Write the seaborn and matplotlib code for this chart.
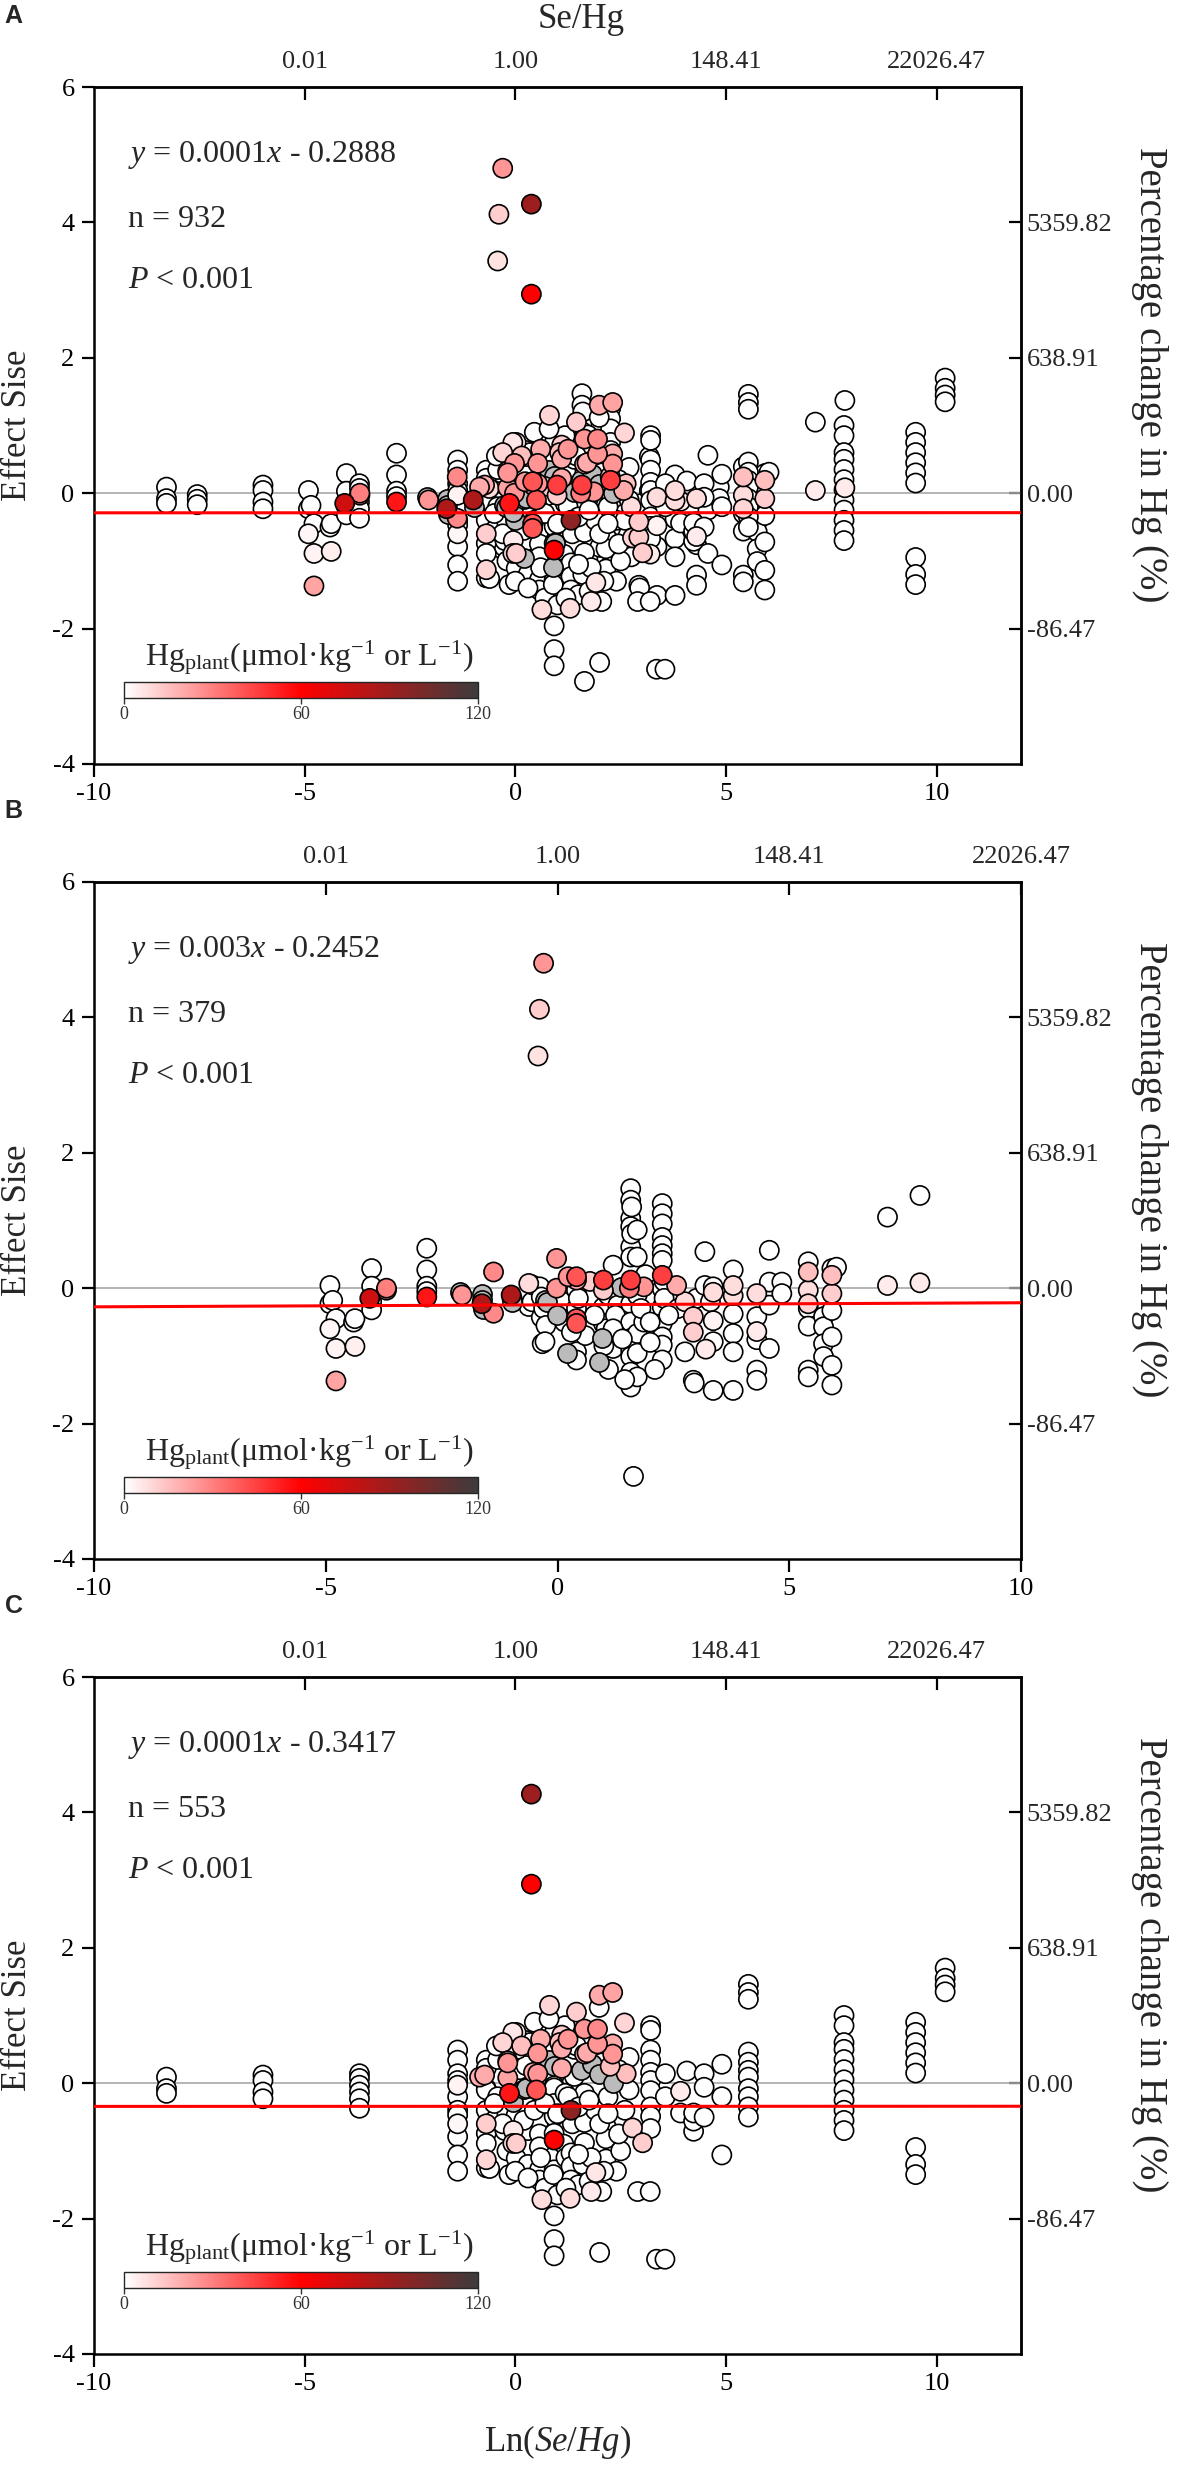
import numpy as np
import pandas as pd
import matplotlib
matplotlib.use("Agg")
import matplotlib.pyplot as plt
import seaborn as sns
from matplotlib.colors import LinearSegmentedColormap, Normalize
from matplotlib.cm import ScalarMappable

nan = np.nan

# ---- panel B data: ln(Se/Hg), effect size, Hg in plant (nan = no Hg value, grey)
b_x = [-4.91, -4.91, -4.85, -4.91, -4.78, -4.78, -4.78,
       -4.40, -4.37, -4.37, -4.01, -4.01, -4.05, -4.01, -4.01, -3.69, -3.69,
       -2.82, -2.82, -2.82, -2.82, -2.82, -2.10, -2.06, -1.63, -1.63, -1.60, -1.63,
       -1.38, -1.38, -1.00, -0.98, -0.98, -0.62, -0.62, -0.55, -0.55,
       -0.38, -0.35, -0.35, -0.33, -0.27, -0.30, -0.25, -0.23, -0.27,
       -0.30, -0.39, -0.42,
       -0.02, -0.02, -0.02, 0.20, 0.23, 0.10, 0.15, 0.41, 0.41, 0.41, 0.41, 0.41,
       0.41, 0.41, 0.41, 0.45, 0.99, 0.99, 0.99, 0.99, 0.95, 0.90, 1.09, 1.05,
       1.20, 1.20, 1.38, 1.30, 1.25,
       1.58, 1.58, 1.58, 1.58, 1.58, 1.58, 1.58, 1.58, 1.58, 1.58,
       1.58, 1.58, 1.58, 1.58, 1.58, 1.60, 1.60, 1.55, 1.64,
       1.72, 1.72, 1.72, 1.72, 1.72, 1.72, 1.86, 1.86,
       2.26, 2.26, 2.26, 2.26, 2.26, 2.26, 2.26, 2.26, 2.26, 2.26,
       2.26, 2.26, 2.26, 2.26, 2.30, 2.30,
       2.57, 2.75, 2.75, 2.60, 2.93, 2.93, 2.93, 2.95, 3.00,
       3.18, 3.18, 3.20, 3.36, 3.36, 3.36, 3.36, 3.36, 3.30,
       3.79, 3.79, 3.79, 3.79, 3.79, 3.79, 3.79,
       4.30, 4.30, 4.30, 4.30, 4.30, 4.30,
       4.57, 4.57, 4.57, 4.57, 4.84, 4.84,
       5.41, 5.41, 5.41, 5.41, 5.41, 5.41, 5.41, 5.41,
       5.74, 5.74, 5.74, 5.74, 5.92, 5.92, 5.92,
       5.92, 5.92, 5.92, 5.92, 6.02,
       7.12, 7.12, 7.82, 7.82,
       0.60, 0.80, 1.00, 1.20, 1.40, 1.80, 2.00, 2.10, 0.70, 1.10, 1.90, 2.40, 0.30, 1.45, 2.00]
b_y = [0.04, -0.23, -0.18, -0.60, -0.45, -0.89, -1.37,
       -0.50, -0.45, -0.86, 0.29, 0.03, -0.15, -0.20, -0.32, -0.03, 0.00,
       0.59, 0.27, 0.03, -0.05, -0.13, -0.05, -0.10, -0.08, -0.18, -0.30, -0.23,
       0.24, -0.37, -0.10, -0.20, -0.15, 0.07, -0.27, -0.20, 0.05,
       0.02, -0.13, -0.43, -0.82, -0.18, -0.30, -0.55, -0.20, -0.79,
       4.80, 4.12, 3.43,
       0.44, 0.00, -0.40, -0.96, 0.17, -0.20, -0.50, 0.17, 0.12, -0.03, -0.30, -0.45,
       -0.52, -0.94, -1.06, -0.15, 0.12, -0.03, -0.28, -0.52, -0.74, -1.09, -0.10, -0.60,
       0.34, -0.89, 0.02, -0.25, -0.40,
       1.47, 1.30, 1.03, 0.91, 0.61, 0.46, 0.12, 0.07, -0.23, -0.50,
       -0.74, -0.92, -1.01, -1.24, -1.46, 1.20, 0.80, 0.00, -2.78,
       0.86, 0.46, -0.10, -0.67, -0.96, -1.31, 0.02, -0.50,
       1.25, 1.10, 0.95, 0.75, 0.63, 0.51, 0.41, 0.19, -0.01, -0.28,
       -0.52, -0.72, -0.84, -1.06, 0.10, -0.15,
       0.04, -0.20, -0.94, -0.30, -0.42, -0.65, -1.36, -1.40, -0.15,
       0.54, 0.04, -0.90, 0.02, -0.06, -0.48, -0.79, -1.51, -0.20,
       0.27, 0.04, -0.11, -0.38, -0.67, -0.94, -1.51,
       -0.08, -0.42, -0.64, -0.76, -1.21, -1.36,
       0.56, 0.09, -0.25, -0.89, 0.09, -0.08,
       0.39, 0.24, -0.03, -0.23, -0.30, -0.56, -1.21, -1.31,
       -0.42, -0.57, -0.82, -1.01, 0.29, 0.19, -0.08,
       -0.33, -0.72, -1.14, -1.43, 0.31,
       1.05, 0.04, 1.37, 0.08,
       -0.70, -0.40, -0.85, -0.60, -0.75, -0.30, -0.80, -1.20, 0.10, -1.20, 0.20, -0.40, -0.65, -1.35, -0.50]
b_hg = [0, 0, 0, 2, 0, 3, 22,
        0, 0, 4, 0, 0, 75, 0, 0, 25, 30,
        0, 0, 0, 0, 55, nan, 25, nan, nan, nan, 85,
        28, 28, 85, nan, 0, 8, 0, 0, 0,
        0, 0, 0, 0, nan, 0, 0, nan, 0,
        25, 12, 7,
        25, 25, nan, nan, 25, 0, 0, 40, 20, 0, 0, 40,
        40, 0, 0, 0, 45, 12, 0, 0, nan, nan, 0, 0,
        0, 0, nan, 0, 0,
        0, 0, 0, 0, 0, 0, 45, 0, 0, 0,
        0, 0, 0, 0, 0, 0, 0, 30, 0,
        0, 0, 0, 0, 0, 0, 25, 0,
        0, 0, 0, 0, 0, 0, 0, 45, 0, 0,
        0, 0, 0, 0, 0, 0,
        20, 8, 0, 0, 12, 12, 0, 0, 0,
        0, 0, 5, 0, 8, 3, 0, 0, 0,
        0, 8, 8, 0, 0, 0, 0,
        8, 0, 5, 0, 0, 0,
        0, 0, 0, 0, 0, 0,
        0, 15, 8, 10, 0, 0, 0, 0,
        0, 0, 0, 0, 0, 15, 12,
        0, 0, 0, 0, 0,
        0, 5, 0, 5,
        0, 0, 0, 0, 0, 0, 0, 0, 12, 0, 0, 0, 0, 0, 0]

# ---- panel C data
c_x = [-8.28, -8.28, -8.28, -5.99, -5.99, -5.99, -5.99,
       -3.70, -3.70, -3.70, -3.70, -3.70, -3.70,
       -1.37, -1.37, -1.37, -1.37, -1.37, -1.37, -1.37, -1.37, -1.37, -1.37, -1.37, -1.37,
       -0.69, -0.69, -0.69, -0.69, -0.69, -0.69, -0.69, -0.69, -0.69, -0.69, -0.73, -0.85,
       -0.61, -0.42, -0.42, -0.50, -0.18, -0.18, -0.18, -0.14, -0.06, -0.06, -0.06,
       0.00, -0.20, -0.25, -0.20, -0.15, 0.02, 0.02, 0.02, 0.02, 0.10, 0.10,
       0.20, 0.25, 0.25, 0.25, 0.30, 0.30, 0.30, 0.43, 0.50, 0.53, 0.53,
       0.57, 0.57, 0.57, 0.57, 0.57, 0.63, 0.38, 0.38, 0.81, 0.79,
       0.92, 0.92, 0.92, 0.92, 0.92, 0.92, 0.92, 0.92,
       0.92, 0.92, 0.92, 0.92, 0.92, 0.92, 0.92, 0.92,
       1.10, 1.10, 1.10, 1.18, 1.18, 1.15, 1.20,
       1.32, 1.32, 1.32, 1.32, 1.35, 1.40, 1.40,
       1.56, 1.64, 1.64, 1.64, 1.64, 1.64, 1.60,
       1.83, 1.95, 1.95, 1.99, 1.99, 1.99, 1.91, 1.90, 2.00,
       2.31, 2.31, 2.31, 2.31, 2.15, 2.15, 2.15, 2.20,
       2.59, 2.63, 2.70, 2.70, 2.78, 3.02, 2.90, 2.60,
       3.21, 3.21, 3.21, 3.21, 3.21, 3.21, 3.21, 3.21, 3.21, 3.21,
       3.20, 3.35, 3.55, 3.56, 3.56, 3.92, 3.92, 4.07,
       4.23, 4.23, 4.23, 4.48, 4.48, 4.48, 4.90, 4.90, 4.90,
       5.53, 5.53, 5.53, 5.53, 5.53, 5.53, 5.53, 5.53, 5.53, 5.53, 5.53,
       7.80, 7.80, 7.80, 7.80, 7.80, 7.80, 7.80, 7.80, 7.80, 7.80, 7.80, 7.80,
       9.50, 9.50, 9.50, 9.50, 9.50, 9.50, 9.50, 9.50, 9.50, 10.20, 10.20, 10.20, 10.20,
       0.70, 1.00, 1.30, 1.50, 1.75, 2.05, 2.40, 0.45, 0.80, 1.45, 1.80, 2.50,
       -0.45, -0.30, -0.10, 0.05, 0.15, 0.35, 0.60, 0.75, 0.85, 1.05, 1.25, 1.45, 1.70, 1.85, 2.05, 2.25, 2.45,
       -0.50, -0.30, -0.05, 0.20, 0.45, 0.70, 1.00, 1.25, 1.50, 1.75, 2.00, 2.20, 2.45,
       0.00, 0.30, 0.60, 0.90, 1.20, 1.50, 1.80, 2.10]
c_y = [0.09, -0.08, -0.15, 0.12, 0.04, -0.13, -0.23,
       0.14, 0.07, -0.03, -0.13, -0.23, -0.37,
       0.49, 0.34, 0.14, 0.04, -0.03, -0.20, -0.40, -0.47, -0.60, -0.79, -1.06, -1.30,
       0.34, 0.22, -0.08, -0.10, -0.40, -0.60, -0.74, -0.89, -1.13, -1.25, 0.12, 0.09,
       -1.26, 0.35, -0.20, -0.55, 0.33, 0.08, 0.30, -0.15, -0.28, 0.75, -0.89,
       -0.50, -0.45, -0.70, -1.00, -1.35, 0.75, -0.47, -0.89, -1.11, 0.20, -0.20,
       -0.08, -0.07, 0.63, 0.26, -0.35, -0.70, -1.20, 0.16, -0.10, 0.44, 0.14,
       -0.55, -0.75, -0.94, -1.28, -1.43, -1.72, 4.27, 2.94, 1.15, 0.34,
       0.74, 0.40, 0.25, 0.10, -0.04, -0.07, -0.30, -0.49,
       -0.74, -0.84, -1.08, -1.28, -1.50, -1.96, -2.31, -2.55,
       0.71, 0.51, 0.22, 0.85, -0.15, -0.90, -1.10,
       -0.40, -1.03, -1.23, -1.43, -0.60, 0.50, 0.10,
       0.20, 0.80, 0.43, -0.15, -0.58, -0.88, -1.20,
       0.28, 0.80, 0.58, 0.14, 1.30, 1.12, -1.32, -0.40, -2.50,
       1.34, 0.00, 0.43, 0.58, -0.63, -0.82, -1.12, -0.20,
       0.89, 0.14, 0.38, -0.10, -0.66, -0.88, -1.60, -0.40,
       0.85, 0.78, 0.49, 0.34, 0.16, 0.04, -0.11, -0.35, -0.49, -0.67,
       -1.60, -2.60, -2.60, 0.14, -0.20, -0.12, -0.44, 0.18,
       -0.71, -0.56, -0.44, 0.14, -0.06, -0.50, 0.28, -0.20, -1.06,
       1.46, 1.34, 1.24, 0.46, 0.31, 0.19, 0.09, -0.08, -0.20, -0.35, -0.50,
       1.00, 0.85, 0.60, 0.50, 0.35, 0.20, 0.05, -0.10, -0.25, -0.40, -0.55, -0.70,
       0.90, 0.75, 0.60, 0.45, 0.30, 0.15, -0.95, -1.20, -1.35, 1.70, 1.55, 1.45, 1.35,
       -1.55, -1.65, -1.70, -1.50, -1.45, -1.60, -1.30, 0.90, 0.95, 1.05, -1.10, -1.00,
       0.55, 0.60, 0.45, 0.50, 0.55, 0.60, 0.65, 0.55, 0.50, 0.60, 0.65, 0.55, 0.45, 0.35, 0.30, 0.25, 0.20,
       -0.30, -0.60, -0.70, -0.55, -0.40, -0.30, -0.45, -0.20, -0.35, -0.25, -0.60, -0.45, -0.75,
       -1.30, -1.40, -1.10, -1.35, -1.55, -1.05, -1.60, -1.30]
c_hg = [0, 0, 0, 0, 0, 0, 0,
        0, 0, 0, 0, 0, 0,
        0, 0, 0, 0, 3, 0, 0, 0, 2, 0, 0, 0,
        0, 0, 0, 0, 0, 12, 0, 0, 10, 0, 20, 20,
        0, 0, 0, 0, 20, 22, 25, 55, nan, 6, 8,
        0, 0, 0, 0, 0, 5, 0, 12, 0, 0, 0,
        nan, nan, 0, 0, 0, 0, 0, 20, 40, 25, 25,
        0, 0, 0, 0, 0, 8, 90, 60, 10, nan,
        0, 0, nan, 0, 0, 0, 0, 0,
        0, 60, 0, 0, 0, 0, 0, 0,
        12, 20, 20, 0, 0, 0, 0,
        95, 0, 0, 0, 0, 0, 0,
        nan, 25, 20, 0, 0, 0, 0,
        nan, 28, 25, nan, 20, 0, 6, 0, 0,
        22, nan, 25, 20, 0, 0, 0, 0,
        10, 15, 0, 0, 10, 12, 0, 0,
        0, 0, 0, 0, 0, 0, 0, 0, 0, 0,
        0, 0, 0, 0, 0, 5, 0, 0,
        0, 0, 0, 0, 0, 0, 0, 0, 0,
        0, 0, 0, 0, 0, 0, 0, 0, 0, 0, 0,
        0, 0, 0, 0, 0, 0, 0, 0, 0, 0, 0, 0,
        0, 0, 0, 0, 0, 0, 0, 0, 0, 0, 0, 0, 0,
        0, 0, 8, 0, 0, 0, 0, 0, 0, 12, 0, 0,
        0, 10, 0, 0, 15, 0, 20, 0, 0, 15, 25, 0, 20, 0, 0, 15, 0,
        0, 0, 5, 0, 0, 0, 0, 0, 0, 0, 0, 0, 0,
        0, 0, 0, 0, 0, 0, 5, 0]

# points seen only in panel A
a_extra_x = [-7.55, -7.55, -7.55]
a_extra_y = [-0.02, -0.09, -0.17]
a_extra_hg = [0, 0, 0]

# regression results per panel (A, B, C)
panel_letters = ["A", "B", "C"]
slopes = [0.0001, 0.003, 0.0001]
intercepts = [-0.2888, -0.2452, -0.3417]
eq_texts = [r"$y$ = 0.0001$x$ - 0.2888", r"$y$ = 0.003$x$ - 0.2452", r"$y$ = 0.0001$x$ - 0.3417"]
n_texts = ["n = 932", "n = 379", "n = 553"]
x_limits = [(-10, 12), (-10, 10), (-10, 12)]

bottom_ticks = [-10, -5, 0, 5, 10]
left_ticks = [-4, -2, 0, 2, 4, 6]
top_tick_pos = [-5, 0, 5, 10]
top_tick_labels = ["0.01", "1.00", "148.41", "22026.47"]
right_tick_pos = [-2, 0, 2, 4]
right_tick_labels = ["-86.47", "0.00", "638.91", "5359.82"]
cbar_ticks = [0, 60, 120]

sns.set_theme(style="ticks")
plt.rcParams["font.family"] = ["Liberation Serif", "DejaVu Serif"]
plt.rcParams["mathtext.fontset"] = "custom"
plt.rcParams["mathtext.rm"] = "Liberation Serif"
plt.rcParams["mathtext.it"] = "Liberation Serif:italic"
plt.rcParams["mathtext.bf"] = "Liberation Serif:bold"
plt.rcParams["axes.unicode_minus"] = False

hg_cmap = LinearSegmentedColormap.from_list("hg", ["#ffffff", "#ff0000", "#3c3c3c"])
hg_norm = Normalize(0, 120)

a_x = b_x + c_x + a_extra_x
a_y = b_y + c_y + a_extra_y
a_hg = b_hg + c_hg + a_extra_hg
panel_data = [(a_x, a_y, a_hg), (b_x, b_y, b_hg), (c_x, c_y, c_hg)]

W, H = 1181, 2467
fig = plt.figure(figsize=(W / 100, H / 100), dpi=100)
panel_bottom_px = [764, 1559, 2354]
ax_h = 677

for i in range(3):
    px, py, phg = panel_data[i]
    df = pd.DataFrame({"x": px, "y": py, "hg": phg})
    ax = fig.add_axes([94 / W, 1 - panel_bottom_px[i] / H, 927 / W, ax_h / H])
    xlim = x_limits[i]

    ax.axhline(0, color="#a8a8a8", lw=1.2, zorder=1)

    kw = dict(x="x", y="y", s=190, edgecolor="black", linewidth=1.2, ax=ax, zorder=3)
    white = df[df["hg"] == 0]
    grey = df[df["hg"].isna()]
    tint = df[df["hg"] > 0].sort_values("hg")
    sns.scatterplot(data=white, hue="hg", palette=hg_cmap, hue_norm=hg_norm, legend=False, **kw)
    sns.scatterplot(data=grey, color="#bbbbbb", **kw)
    sns.scatterplot(data=tint, hue="hg", palette=hg_cmap, hue_norm=hg_norm, legend=False, **kw)

    xs = np.array(xlim, dtype=float)
    ax.plot(xs, slopes[i] * xs + intercepts[i], color="#ff0000", lw=2.2, zorder=5)

    ax.set_xlim(xlim)
    ax.set_ylim(-4, 6)
    ax.set_xticks(bottom_ticks)
    ax.set_yticks(left_ticks)
    ax.set_xlabel("")
    ax.set_ylabel("")
    ax.tick_params(axis="both", direction="out", length=9, width=1.6, labelsize=19, pad=5,
                   color="black", labelcolor="black", bottom=True, left=True, top=False, right=False)
    for s in ax.spines.values():
        s.set_visible(True)
        s.set_linewidth(1.8)
        s.set_color("black")

    top = ax.secondary_xaxis("top")
    top.set_xticks(top_tick_pos, top_tick_labels)
    top.tick_params(direction="in", length=9, width=1.6, labelsize=19, pad=10, color="black")
    right = ax.secondary_yaxis("right")
    right.set_yticks(right_tick_pos, right_tick_labels)
    right.tick_params(direction="in", length=9, width=1.6, labelsize=19, pad=4, color="black")
    for sec in (top, right):
        for s in sec.spines.values():
            s.set_linewidth(1.8)

    ax.text(-0.083, 0.5, "Effect Sise", rotation=90, fontsize=25,
            ha="center", va="center", transform=ax.transAxes)
    ax.text(1.119, 0.575, "Percentage change in Hg (%)", rotation=270, fontsize=28,
            ha="left", va="center", transform=ax.transAxes)

    ax.text(0.037, 0.889, eq_texts[i], fontsize=23, transform=ax.transAxes, va="baseline")
    ax.text(0.037, 0.793, n_texts[i], fontsize=23, transform=ax.transAxes, va="baseline")
    ax.text(0.037, 0.703, r"$P$ < 0.001", fontsize=23, transform=ax.transAxes, va="baseline")

    # colour bar inside the panel
    ax.text(0.055, 0.146, r"Hg$_{\mathrm{plant}}$(μmol·kg$^{-1}$ or L$^{-1}$)", fontsize=23,
            transform=ax.transAxes, va="baseline")
    cax = ax.inset_axes([0.0324, 0.0975, 0.382, 0.0236])
    sm = ScalarMappable(norm=hg_norm, cmap=hg_cmap)
    cb = fig.colorbar(sm, cax=cax, orientation="horizontal")
    cb.set_ticks(cbar_ticks)
    cb.outline.set_linewidth(1.0)
    cax.tick_params(labelsize=13, length=4, width=1, pad=2, colors="#333333")

    fig.text(0.004, 1 - (16 + 795 * i) / H, panel_letters[i], fontsize=18,
             fontweight="bold", family="Liberation Sans", va="center", ha="left")

    if i == 0:
        ax.text(0.525, 1.1, "Se/Hg", fontsize=25, ha="center", va="center", transform=ax.transAxes)
    if i == 2:
        ax.set_xlabel(r"Ln($Se/Hg$)", fontsize=25, labelpad=20)

fig.savefig("out.png", dpi=100)
